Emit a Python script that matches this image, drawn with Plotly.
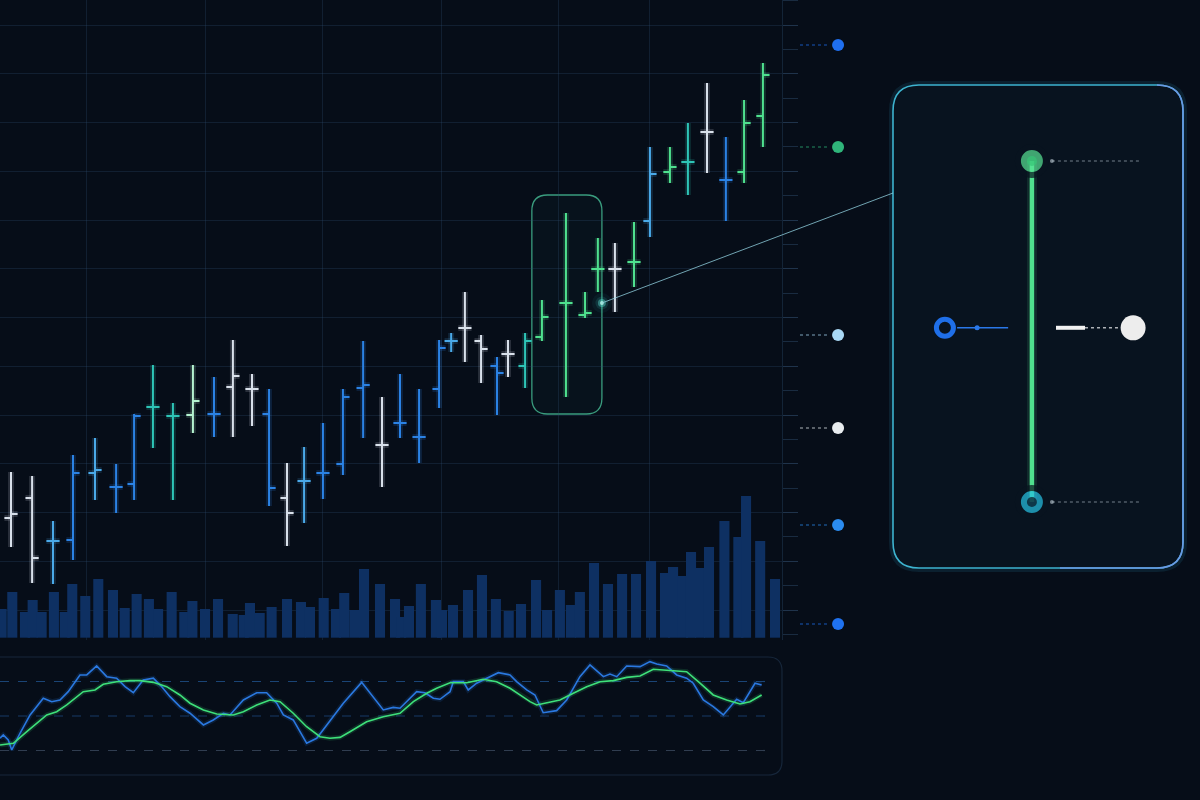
import plotly.graph_objects as go

# ---------------- data ----------------
# session time (bar positions) and OHLC prices
t = [0, 1.15, 2.29, 3.38, 4.58, 5.73, 6.71, 7.74, 8.83, 9.92, 11.07, 12.1, 13.14, 14.07,
     15.05, 15.98, 17.01, 18.1, 19.2, 20.23, 21.21, 22.25, 23.34, 24.0, 24.75, 25.63, 26.5,
     27.1, 28.03, 28.95, 30.26, 31.3, 32.0, 32.93, 33.97, 34.84, 35.93, 36.91, 37.95, 38.98,
     39.97, 41.0]
open_ = [56.4, 60.4, 51.8, 52.0, 65.4, 62.6, 63.2, 78.6, 76.8, 77.0, 77.2, 82.6, 82.2, 77.2,
         60.4, 63.8, 65.4, 67.2, 82.4, 71.0, 75.4, 72.6, 82.2, 91.8, 94.4, 91.8, 86.8, 89.2,
         86.8, 92.6, 99.4, 97.0, 106.2, 106.2, 107.6, 115.8, 125.6, 127.6, 133.6, 124.0, 125.6, 136.8]
high = [65.6, 64.8, 55.8, 69.0, 72.4, 67.2, 77.2, 87.0, 79.4, 87.0, 84.6, 92.0, 85.2, 82.2,
        67.4, 70.6, 75.4, 82.2, 91.8, 80.6, 85.2, 82.2, 92.0, 93.4, 101.6, 93.0, 88.6, 92.0,
        93.4, 100.0, 117.4, 101.6, 112.4, 111.4, 115.6, 130.6, 130.6, 135.4, 143.4, 132.6, 140.0, 147.4]
low = [50.6, 43.4, 43.2, 48.0, 60.0, 57.4, 60.0, 70.4, 60.0, 73.4, 72.6, 72.6, 74.8, 58.8,
       50.8, 55.4, 60.2, 65.0, 72.4, 62.6, 72.4, 67.4, 78.4, 89.6, 87.6, 83.4, 77.0, 84.6,
       82.4, 91.8, 80.6, 96.4, 101.6, 97.6, 102.6, 112.6, 123.4, 121.0, 125.4, 115.8, 123.4, 130.6]
close = [57.2, 48.4, 51.8, 65.4, 66.0, 62.6, 76.8, 78.6, 76.8, 79.8, 77.2, 84.8, 82.2, 62.4,
         57.4, 63.8, 65.4, 80.6, 83.0, 71.0, 75.4, 72.6, 90.4, 91.8, 94.4, 90.2, 85.4, 89.2,
         91.8, 96.6, 99.4, 97.4, 106.2, 106.2, 107.6, 125.2, 126.6, 127.6, 133.6, 124.0, 135.4, 145.0]

# volume (thousands)
vol_t = [-0.51, 0.07, 0.76, 1.18, 1.67, 2.34, 2.93, 3.34, 4.05, 4.76, 5.56, 6.2, 6.85, 7.52,
         8.02, 8.76, 9.45, 9.89, 10.58, 11.29, 12.09, 12.69, 13.03, 13.56, 14.21, 15.05, 15.81,
         16.3, 17.05, 17.72, 18.17, 18.72, 19.25, 20.12, 20.94,
         21.27, 21.7, 22.35, 23.17, 23.5, 24.1, 24.92, 25.68, 26.44, 27.14, 27.81, 28.63, 29.23,
         29.93, 30.53, 31.02, 31.79, 32.55, 33.32, 34.08, 34.9, 35.66, 36.1, 36.64, 37.08, 37.57,
         38.06, 38.9, 39.66, 40.08, 40.85, 41.66]
vol = [287, 457, 257, 377, 257, 457, 257, 537, 417, 587, 477, 297, 437, 387, 287, 457, 257,
       367, 287, 387, 237, 227, 347, 247, 307, 387, 357, 307, 397, 287, 447, 277, 687, 537, 387,
       207, 317, 537, 377, 277, 327, 477, 627, 387, 267, 337, 577, 277, 477, 327, 457, 747, 537,
       637, 637, 767, 647, 707, 617, 857, 697, 907, 1167, 1007, 1417, 967, 587]

# oscillator: fast (blue) and signal (green)
fast_t = [-0.60, -0.42, -0.15, 0.04, 0.49, 1.04, 1.76, 2.22, 2.67, 3.12, 3.76, 4.13, 4.67, 5.22,
          5.76, 6.22, 6.67, 7.03, 7.21, 7.76, 8.22, 8.67, 9.21, 9.76, 10.49, 11.03, 11.58, 11.94,
          12.67, 13.40, 13.94, 14.49, 14.85, 15.39, 16.12, 16.67, 17.21, 18.12, 19.12, 19.75,
          20.30, 20.84, 21.21, 22.12, 22.57, 23.03, 23.39, 23.94, 24.12, 24.66, 24.93, 25.39,
          25.94, 26.57, 27.21, 27.57, 28.12, 28.57, 29.02, 29.75, 30.30, 31.02, 31.57, 32.30,
          32.66, 33.03, 33.57, 34.30, 34.84, 35.21, 35.75, 36.30, 36.84, 37.20, 37.75, 38.29,
          38.84, 39.57, 39.93, 40.57, 40.93]
fast_v = [37.1, 39.0, 36.1, 30.3, 40.0, 50.6, 60.3, 58.3, 59.3, 64.1, 73.8, 73.8, 79.0, 72.8,
          71.9, 67.0, 63.5, 68.0, 70.9, 71.9, 67.0, 61.2, 55.4, 51.6, 44.8, 47.7, 51.6, 50.6,
          59.3, 63.5, 63.5, 57.4, 50.6, 47.7, 34.2, 37.1, 44.8, 57.4, 69.5, 61.2, 53.5, 55.0,
          54.5, 64.1, 63.5, 60.3, 59.7, 64.1, 69.9, 69.9, 65.1, 69.0, 71.9, 75.1, 73.8, 69.9,
          65.1, 62.2, 51.9, 53.1, 59.3, 72.8, 79.6, 72.8, 74.3, 72.8, 79.0, 78.6, 81.5, 80.1,
          79.0, 73.8, 71.9, 69.0, 59.3, 55.4, 50.6, 59.7, 57.7, 69.0, 68.0]
slow_t = [-0.60, 0.13, 0.86, 1.40, 1.95, 2.49, 3.04, 3.94, 4.58, 5.03, 5.76, 6.49, 7.03, 7.76,
          8.49, 9.21, 9.76, 10.49, 11.22, 12.12, 12.67, 13.40, 14.12, 14.67, 15.39, 16.12, 16.85,
          17.39, 17.94, 18.48, 19.39, 20.30, 21.21, 21.94, 22.67, 23.21, 23.94, 24.85, 25.75,
          26.48, 27.21, 27.75, 28.30, 28.66, 29.39, 29.93, 30.66, 31.39, 32.12, 32.84, 33.57,
          34.30, 35.02, 35.75, 36.48, 36.84, 37.57, 38.29, 39.02, 39.75, 40.29, 40.93]
slow_v = [33.2, 34.2, 40.9, 45.8, 50.6, 52.5, 56.4, 64.1, 65.1, 68.4, 69.9, 70.5, 70.5, 69.5,
          67.0, 62.2, 57.4, 53.5, 51.2, 50.6, 52.5, 56.4, 59.3, 58.3, 51.6, 43.8, 38.0, 37.1,
          37.6, 40.9, 46.7, 49.6, 51.6, 58.3, 63.2, 66.1, 69.3, 69.3, 71.3, 69.9, 66.1, 62.2,
          58.3, 56.4, 58.3, 59.3, 63.2, 67.0, 69.9, 70.5, 72.4, 73.2, 77.1, 76.7, 76.3, 75.7,
          69.0, 62.2, 59.3, 57.0, 58.3, 62.2]
osc_levels = [70, 50, 30]

# price levels flagged on the right rail
level_prices = [151.0, 130.6, 93.0, 74.4, 55.0, 35.2]

# highlighted window (bar indices) and zoomed bar
highlight_bars = [29, 30, 31, 32]
zoom_bar = 30

# ---------------- styles ----------------
BG = "#060d18"
PANEL_BG = "#08131f"
W, H = 1200, 800
DX = 782 / W
XR = [-0.6, 42.04]
YR = [32, 160]
Y_DOM = [0.2, 1.0]
PAL = {"white": "#d8e0ea", "blue": "#2b82e4", "sky": "#4aa9e8", "teal": "#2ec4b6",
       "green": "#4fe08e", "mint": "#b4f2cf"}
bar_tone = ["white", "white", "sky", "blue", "sky", "blue", "blue", "teal", "teal", "mint",
            "blue", "white", "white", "blue", "white", "sky", "blue", "blue", "blue", "white",
            "blue", "blue", "blue", "sky", "white", "white", "blue", "white", "teal", "green",
            "green", "green", "green", "white", "green", "sky", "green", "teal", "white", "blue",
            "green", "green"]
level_colors = ["#1f6ff0", "#2fb57a", "#a9d8f5", "#e8ecef", "#2b8cf0", "#1f72f0"]
TICK = 0.36
GRID = "rgba(45,80,115,0.28)"

fig = go.Figure()

# volume
fig.add_trace(go.Bar(x=vol_t, y=vol, width=0.55, marker=dict(color="#0e3062", line=dict(width=0)),
                     xaxis="x", yaxis="y2", hoverinfo="skip"))


def rgba(hexc, a):
    h = hexc.lstrip("#")
    return f"rgba({int(h[0:2],16)},{int(h[2:4],16)},{int(h[4:6],16)},{a})"


# OHLC bars grouped by tone
for tone, col in PAL.items():
    idx = [i for i, tn in enumerate(bar_tone) if tn == tone]
    xs, ys = [], []
    for i in idx:
        xs += [t[i], t[i], None, t[i] - TICK, t[i], None, t[i], t[i] + TICK, None]
        ys += [low[i], high[i], None, open_[i], open_[i], None, close[i], close[i], None]
    fig.add_trace(go.Scatter(x=xs, y=ys, mode="lines", line=dict(color=rgba(col, 0.16), width=6),
                             xaxis="x", yaxis="y", hoverinfo="skip"))
    fig.add_trace(go.Scatter(x=xs, y=ys, mode="lines", line=dict(color=col, width=2),
                             xaxis="x", yaxis="y", hoverinfo="skip"))

# highlight box around selected bars (data driven)
hx0 = t[highlight_bars[0]] - 0.55
hx1 = t[highlight_bars[-1]] + 0.22
hy0 = min(low[i] for i in highlight_bars) - 3.4
hy1 = max(high[i] for i in highlight_bars) + 3.6


def rr_data(x0, x1, y0, y1, rx, ry):
    return (f"M {x0+rx},{y1} L {x1-rx},{y1} Q {x1},{y1} {x1},{y1-ry} L {x1},{y0+ry} "
            f"Q {x1},{y0} {x1-rx},{y0} L {x0+rx},{y0} Q {x0},{y0} {x0},{y0+ry} "
            f"L {x0},{y1-ry} Q {x0},{y1} {x0+rx},{y1} Z")


def rr_px(x0, y0, x1, y1, r):
    X = lambda v: v / W
    Y = lambda v: 1 - v / H
    return (f"M {X(x0+r)},{Y(y0)} L {X(x1-r)},{Y(y0)} Q {X(x1)},{Y(y0)} {X(x1)},{Y(y0+r)} "
            f"L {X(x1)},{Y(y1-r)} Q {X(x1)},{Y(y1)} {X(x1-r)},{Y(y1)} "
            f"L {X(x0+r)},{Y(y1)} Q {X(x0)},{Y(y1)} {X(x0)},{Y(y1-r)} "
            f"L {X(x0)},{Y(y0+r)} Q {X(x0)},{Y(y0)} {X(x0+r)},{Y(y0)} Z")


shapes = []
shapes.append(dict(type="path", xref="x", yref="y", path=rr_data(hx0, hx1, hy0, hy1, 0.85, 3.2),
                   line=dict(color="#3a9c7e", width=1.3), fillcolor="rgba(60,200,150,0.03)",
                   layer="below"))

# glow point on highlight edge
gx, gy = hx1, close[zoom_bar]
fig.add_trace(go.Scatter(x=[gx, gx, gx, gx], y=[gy, gy, gy, gy], mode="markers",
                         marker=dict(size=[20, 13, 8, 4],
                                     color=["rgba(60,220,210,0.08)", "rgba(70,225,215,0.18)",
                                            "rgba(100,240,225,0.55)", "#c8fff5"],
                                     line=dict(width=0)),
                         xaxis="x", yaxis="y", cliponaxis=False, hoverinfo="skip"))

# connector from glow point to inset panel
gpx = DX * (gx - XR[0]) / (XR[1] - XR[0])
gpy = Y_DOM[0] + (Y_DOM[1] - Y_DOM[0]) * (gy - YR[0]) / (YR[1] - YR[0])
shapes.append(dict(type="line", xref="paper", yref="paper", x0=gpx, y0=gpy, x1=893 / W,
                   y1=1 - 193 / H, line=dict(color="rgba(150,215,230,0.75)", width=1)))

# oscillator
for xs, ys, col in [(slow_t, slow_v, "#3ee07a"), (fast_t, fast_v, "#2a78e0")]:
    fig.add_trace(go.Scatter(x=xs, y=ys, mode="lines", line=dict(color=rgba(col, 0.15), width=5),
                             xaxis="x2", yaxis="y3", hoverinfo="skip"))
for xs, ys, col in [(fast_t, fast_v, "#2a78e0"), (slow_t, slow_v, "#3ee07a")]:
    fig.add_trace(go.Scatter(x=xs, y=ys, mode="lines", line=dict(color=col, width=1.6),
                             xaxis="x2", yaxis="y3", hoverinfo="skip"))
osc_line_cols = ["rgba(40,105,180,0.6)", "rgba(40,105,180,0.5)", "rgba(90,110,135,0.5)"]
for lv, lc in zip(osc_levels, osc_line_cols):
    shapes.append(dict(type="line", xref="paper", yref="y3", x0=0, x1=770 / W, y0=lv, y1=lv,
                       line=dict(color=lc, width=1.2, dash="dash"), layer="below"))
shapes.append(dict(type="path", xref="paper", yref="paper", path=rr_px(-30, 657, 782, 775, 14),
                   line=dict(color="#16263a", width=1.2), layer="below"))

# right rail level markers
for lp, lc in zip(level_prices, level_colors):
    fig.add_trace(go.Scatter(x=[0.162, 0.432], y=[lp, lp], mode="lines",
                             line=dict(color=rgba(lc, 0.75), width=1.2, dash="dot"),
                             xaxis="x4", yaxis="y5", hoverinfo="skip"))
fig.add_trace(go.Scatter(x=[0.505] * len(level_prices), y=level_prices, mode="markers",
                         marker=dict(size=12, color=level_colors, line=dict(width=0)),
                         xaxis="x4", yaxis="y5", cliponaxis=False, hoverinfo="skip"))

# inset panel (zoomed candle)
shapes.append(dict(type="path", xref="paper", yref="paper", path=rr_px(893, 85, 1183, 568, 26),
                   line=dict(color="rgba(50,170,210,0.12)", width=8), layer="below"))
shapes.append(dict(type="path", xref="paper", yref="paper", path=rr_px(893, 85, 1183, 568, 26),
                   line=dict(color="#3db3cf", width=1.6), fillcolor=PANEL_BG, layer="below"))
r = 26
shapes.append(dict(type="path", xref="paper", yref="paper",
                   path=(f"M {(1183-r)/W},{1-85/H} Q {1183/W},{1-85/H} {1183/W},{1-(85+r)/H} "
                         f"L {1183/W},{1-(568-r)/H} Q {1183/W},{1-568/H} {(1183-r)/W},{1-568/H} "
                         f"L {1060/W},{1-568/H}"),
                   line=dict(color="#6a98e4", width=1.6), layer="below"))

zh, zl, zo, zc = high[zoom_bar], low[zoom_bar], open_[zoom_bar], close[zoom_bar]
s = (zh - zl) / (502 - 161)
y4r = [zl - (568 - 502) * s, zh + (161 - 85) * s]
CX = 0.479
dot_col = "rgba(205,220,230,0.55)"
for lv in (zh, zl):
    fig.add_trace(go.Scatter(x=[0.548, 0.852], y=[lv, lv], mode="lines",
                             line=dict(color=dot_col, width=1, dash="dot"),
                             xaxis="x3", yaxis="y4", hoverinfo="skip"))
    fig.add_trace(go.Scatter(x=[0.548], y=[lv], mode="markers", marker=dict(size=4, color=dot_col),
                             xaxis="x3", yaxis="y4", hoverinfo="skip"))
fig.add_trace(go.Scatter(x=[CX, CX], y=[zl, zh], mode="lines",
                         line=dict(color="rgba(79,224,142,0.12)", width=10),
                         xaxis="x3", yaxis="y4", hoverinfo="skip"))
fig.add_trace(go.Scatter(x=[CX, CX], y=[zl, zh], mode="lines", line=dict(color="#4fe08e", width=4.5),
                         xaxis="x3", yaxis="y4", hoverinfo="skip"))
# high dot
fig.add_trace(go.Scatter(x=[CX, CX], y=[zh, zh], mode="markers",
                         marker=dict(size=[28, 10], color=["#58e494", "#36c476"],
                                     line=dict(color=PANEL_BG, width=[6, 0])),
                         xaxis="x3", yaxis="y4", cliponaxis=False, hoverinfo="skip"))
# low ring
fig.add_trace(go.Scatter(x=[CX, CX], y=[zl, zl], mode="markers",
                         marker=dict(size=[28, 10], color=["#27c3e6", PANEL_BG],
                                     line=dict(color=PANEL_BG, width=[6, 0])),
                         xaxis="x3", yaxis="y4", cliponaxis=False, hoverinfo="skip"))
# open (left)
fig.add_trace(go.Scatter(x=[0.221, 0.397], y=[zo, zo], mode="lines", line=dict(color="#2a78e8", width=1.6),
                         xaxis="x3", yaxis="y4", hoverinfo="skip"))
fig.add_trace(go.Scatter(x=[0.290], y=[zo], mode="markers", marker=dict(size=5, color="#2a78e8"),
                         xaxis="x3", yaxis="y4", hoverinfo="skip"))
fig.add_trace(go.Scatter(x=[0.179], y=[zo], mode="markers",
                         marker=dict(size=17, color=PANEL_BG, line=dict(color="#1f6fe8", width=5)),
                         xaxis="x3", yaxis="y4", hoverinfo="skip"))
# close (right)
fig.add_trace(go.Scatter(x=[0.662, 0.783], y=[zc, zc], mode="lines",
                         line=dict(color="rgba(230,232,235,0.75)", width=1.5, dash="dot"),
                         xaxis="x3", yaxis="y4", hoverinfo="skip"))
fig.add_trace(go.Scatter(x=[0.562, 0.662], y=[zc, zc], mode="lines", line=dict(color="#f2f2f2", width=4),
                         xaxis="x3", yaxis="y4", hoverinfo="skip"))
fig.add_trace(go.Scatter(x=[0.828], y=[zc], mode="markers",
                         marker=dict(size=25, color="#ededed", line=dict(width=0)),
                         xaxis="x3", yaxis="y4", hoverinfo="skip"))

hidden = dict(visible=False, showgrid=False, zeroline=False)
fig.update_layout(
    width=W, height=H, margin=dict(l=0, r=0, t=0, b=0),
    paper_bgcolor=BG, plot_bgcolor="rgba(0,0,0,0)", showlegend=False, barmode="overlay",
    shapes=shapes,
    xaxis=dict(domain=[0, DX], range=XR, tickvals=[4.09, 10.63, 17.01, 23.45, 29.83, 34.84],
               showticklabels=False, ticks="", showgrid=True, gridcolor=GRID, gridwidth=1,
               zeroline=False, showline=False, anchor="y"),
    yaxis=dict(domain=Y_DOM, range=YR, side="right", tick0=38, dtick=9.75, showgrid=True,
               gridcolor=GRID, gridwidth=1, zeroline=False, showticklabels=False,
               ticks="outside", ticklen=15, tickcolor="rgba(55,90,125,0.5)", tickwidth=1,
               showline=True, linecolor="rgba(45,80,115,0.35)", linewidth=1, anchor="x",
               minor=dict(ticks="outside", ticklen=15, tick0=38, dtick=4.875,
                          tickcolor="rgba(55,90,125,0.4)", showgrid=False)),
    yaxis2=dict(overlaying="y", range=[-23, 6377], **hidden),
    xaxis2=dict(domain=[0, DX], matches="x", anchor="y3", **hidden),
    yaxis3=dict(domain=[1 - 775 / H, 1 - 657 / H], range=[15.8, 84.2], anchor="x2", **hidden),
    xaxis3=dict(domain=[893 / W, 1183 / W], range=[0, 1], anchor="y4", **hidden),
    yaxis4=dict(domain=[1 - 568 / H, 1 - 85 / H], range=y4r, anchor="x3", **hidden),
    xaxis4=dict(domain=[782 / W, 893 / W], range=[0, 1], anchor="y5", **hidden),
    yaxis5=dict(domain=Y_DOM, range=YR, anchor="x4", **hidden),
)

fig.write_html("out.html", config={"displayModeBar": False},
               post_script="document.body.style.margin='0';document.body.style.padding='0';"
                           "document.body.style.overflow='hidden';"
                           "document.body.style.background='#060d18';")
